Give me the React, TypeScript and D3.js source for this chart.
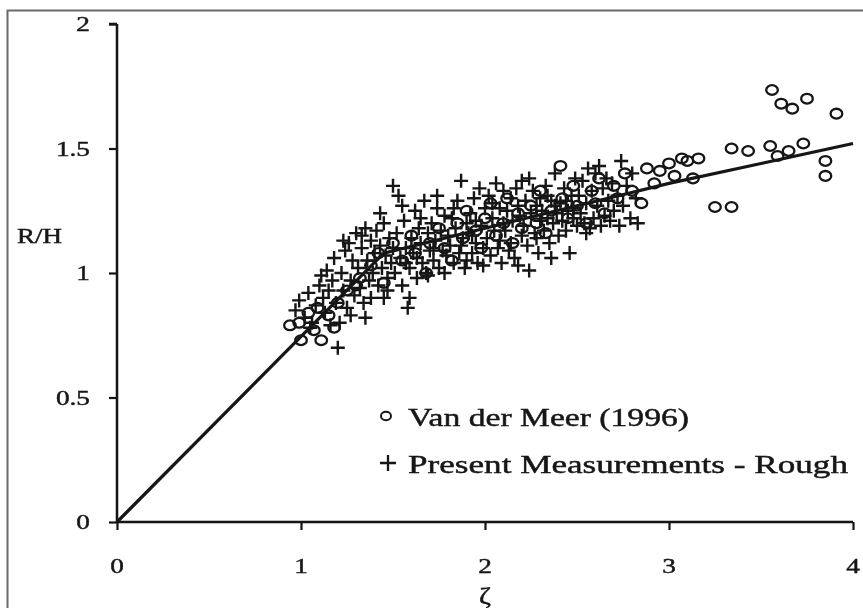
import React, { useEffect, useRef } from "react";
import * as d3 from "d3";

const X_TICKS = [0, 1, 2, 3, 4];
const X_TICK_LABELS = ["0", "1", "2", "3", "4"];
const Y_TICKS = [0, 0.5, 1, 1.5, 2];
const Y_TICK_LABELS = ["0", "0.5", "1", "1.5", "2"];
const X_LABEL = "ζ";
const Y_LABEL = "R/H";
const LEGEND = ["Van der Meer (1996)", "Present Measurements - Rough"];

// Fitted design curve
const curve: [number, number][] = [
  [0, 0], [1.45, 1.08], [2, 1.18], [2.5, 1.27], [3, 1.36], [3.5, 1.44], [4, 1.52],
];

// Van der Meer (1996) – circles
const vanDerMeer: [number, number][] = [
  [0.94, 0.79], [0.99, 0.8], [1.04, 0.84], [1.0, 0.73], [1.11, 0.73], [1.07, 0.77],
  [1.15, 0.83], [1.2, 0.88], [1.25, 0.93], [1.3, 0.95], [1.18, 0.78], [1.09, 0.86],
  [1.32, 0.98], [1.38, 1.03], [1.42, 1.08], [1.45, 0.96], [1.5, 1.12], [1.55, 1.05],
  [1.6, 1.15], [1.62, 1.08], [1.68, 1.0], [1.7, 1.12], [1.75, 1.18], [1.78, 1.1],
  [1.82, 1.05], [1.85, 1.2], [1.88, 1.14], [1.9, 1.25], [1.95, 1.17], [1.98, 1.1],
  [2.0, 1.22], [2.03, 1.28], [2.06, 1.15], [2.1, 1.2], [2.12, 1.3], [2.15, 1.12],
  [2.18, 1.24], [2.2, 1.18], [2.25, 1.27], [2.28, 1.2], [2.3, 1.33], [2.33, 1.16],
  [2.36, 1.25], [2.41, 1.43], [2.42, 1.3], [2.45, 1.22], [2.48, 1.35], [2.5, 1.27],
  [2.55, 1.2], [2.58, 1.33], [2.6, 1.28], [2.62, 1.38], [2.65, 1.24], [2.7, 1.35],
  [2.72, 1.3], [2.76, 1.4], [2.8, 1.33], [2.85, 1.28], [2.88, 1.42], [2.92, 1.36],
  [2.95, 1.41], [3.0, 1.44], [3.03, 1.39], [3.07, 1.46], [3.1, 1.45], [3.13, 1.38],
  [3.16, 1.46], [3.25, 1.265], [3.34, 1.265], [3.34, 1.5], [3.43, 1.49],
  [3.55, 1.51], [3.59, 1.47], [3.65, 1.49], [3.73, 1.52], [3.85, 1.45], [3.85, 1.39],
  [3.56, 1.735], [3.61, 1.68], [3.67, 1.66], [3.75, 1.7], [3.91, 1.64],
];

// Present Measurements - Rough – plus signs
const present: [number, number][] = [
  [0.97, 0.85], [0.99, 0.89], [1.02, 0.82], [1.04, 0.92], [1.06, 0.8], [1.08, 0.87], [1.1, 0.95], [1.05, 0.78],
  [1.11, 0.99], [1.12, 0.9], [1.13, 0.84], [1.14, 1.01], [1.15, 0.93], [1.16, 0.79], [1.17, 0.97], [1.18, 1.06], [1.19, 0.88], [1.2, 0.7],
  [1.21, 0.8], [1.22, 1.0], [1.23, 0.93], [1.24, 1.09], [1.25, 0.86], [1.26, 1.12], [1.27, 0.97], [1.28, 1.05], [1.29, 0.91], [1.3, 1.16], [1.23, 1.13], [1.27, 0.83],
  [1.31, 1.02], [1.32, 0.94], [1.33, 1.1], [1.34, 0.88], [1.35, 0.82], [1.35, 1.18], [1.36, 1.05], [1.37, 0.97], [1.38, 1.13], [1.39, 1.0], [1.4, 1.08], [1.38, 0.9], [1.33, 1.15],
  [1.41, 1.17], [1.42, 0.95], [1.43, 1.11], [1.44, 1.02], [1.45, 1.2], [1.45, 0.9], [1.46, 1.07], [1.47, 0.98], [1.48, 1.14], [1.49, 1.04], [1.5, 1.35], [1.5, 1.1], [1.43, 1.24], [1.47, 0.93],
  [1.51, 1.0], [1.52, 1.16], [1.53, 1.31], [1.54, 1.06], [1.55, 0.95], [1.56, 1.21], [1.57, 1.1], [1.58, 0.86], [1.59, 0.9], [1.59, 1.02], [1.6, 1.14], [1.55, 1.27], [1.57, 1.04],
  [1.61, 1.08], [1.62, 1.25], [1.63, 0.98], [1.64, 1.18], [1.65, 1.12], [1.66, 1.04], [1.67, 1.29], [1.68, 1.0], [1.69, 1.16], [1.7, 1.09], [1.65, 1.22], [1.63, 1.06], [1.69, 0.99],
  [1.71, 1.2], [1.72, 1.05], [1.73, 1.13], [1.74, 1.26], [1.75, 1.02], [1.76, 1.17], [1.77, 1.09], [1.78, 1.23], [1.79, 1.07], [1.8, 1.15], [1.74, 1.31], [1.78, 1.0], [1.72, 1.1],
  [1.81, 1.11], [1.82, 1.22], [1.83, 1.04], [1.84, 1.18], [1.85, 1.29], [1.86, 1.08], [1.87, 1.37], [1.88, 1.14], [1.89, 1.02], [1.9, 1.2], [1.83, 1.26], [1.87, 1.11], [1.9, 1.05],
  [1.91, 1.16], [1.92, 1.24], [1.93, 1.08], [1.94, 1.3], [1.95, 1.12], [1.96, 1.04], [1.97, 1.34], [1.98, 1.19], [1.99, 1.1], [2.0, 1.26], [1.95, 1.21], [1.99, 1.03], [1.93, 1.15],
  [2.01, 1.14], [2.02, 1.31], [2.03, 1.07], [2.04, 1.22], [2.05, 1.17], [2.06, 1.36], [2.07, 1.1], [2.08, 1.26], [2.09, 1.04], [2.1, 1.2], [2.04, 1.28], [2.08, 1.13], [2.1, 1.33],
  [2.11, 1.17], [2.12, 1.25], [2.13, 1.09], [2.14, 1.3], [2.15, 1.21], [2.16, 1.06], [2.17, 1.34], [2.18, 1.03], [2.19, 1.23], [2.2, 1.15], [2.14, 1.12], [2.18, 1.27], [2.2, 1.37],
  [2.21, 1.19], [2.22, 1.29], [2.23, 1.11], [2.24, 1.01], [2.25, 1.24], [2.26, 1.33], [2.27, 1.16], [2.28, 1.27], [2.29, 1.08], [2.3, 1.21], [2.24, 1.38], [2.28, 1.14], [2.3, 1.3],
  [2.31, 1.25], [2.32, 1.17], [2.33, 1.35], [2.34, 1.22], [2.35, 1.12], [2.36, 1.29], [2.37, 1.2], [2.38, 1.4], [2.39, 1.24], [2.4, 1.15], [2.34, 1.31], [2.38, 1.27], [2.36, 1.06],
  [2.41, 1.28], [2.42, 1.21], [2.43, 1.34], [2.44, 1.17], [2.45, 1.25], [2.46, 1.08], [2.47, 1.31], [2.48, 1.22], [2.49, 1.38], [2.5, 1.19], [2.44, 1.29], [2.48, 1.26],
  [2.51, 1.31], [2.52, 1.24], [2.53, 1.37], [2.54, 1.2], [2.55, 1.28], [2.56, 1.42], [2.57, 1.18], [2.58, 1.33], [2.59, 1.22], [2.6, 1.4], [2.55, 1.16],
  [2.61, 1.27], [2.62, 1.43], [2.63, 1.19], [2.64, 1.34], [2.65, 1.23], [2.66, 1.38], [2.67, 1.29], [2.68, 1.21], [2.69, 1.36], [2.7, 1.25],
  [2.72, 1.31], [2.73, 1.19], [2.74, 1.45], [2.75, 1.27], [2.77, 1.35], [2.79, 1.22], [2.8, 1.4], [2.83, 1.2], [2.82, 1.3],
];

const W = 863;
const H = 608;
const FONT = "'Liberation Serif', 'Times New Roman', serif";
const INK = "#151515";

export default function App() {
  const axRef = useRef<SVGGElement>(null);
  const x = d3.scaleLinear().domain([0, 4]).range([117, 853]);
  const y = d3.scaleLinear().domain([0, 2]).range([522, 24]);

  useEffect(() => {
    const g = d3.select(axRef.current);
    g.selectAll("*").remove();
    const ya = g.append("g").attr("transform", `translate(${x(0)},0)`)
      .call(d3.axisLeft(y).tickValues(Y_TICKS).tickSize(8).tickFormat(() => ""));
    const xa = g.append("g").attr("transform", `translate(0,${y(0)})`)
      .call(d3.axisBottom(x).tickValues(X_TICKS).tickSize(8).tickFormat(() => ""));
    [ya, xa].forEach((a) => {
      a.select(".domain").attr("stroke", INK).attr("stroke-width", 2.5);
      a.selectAll(".tick line").attr("stroke", INK).attr("stroke-width", 2.2);
    });
    ya.select(".domain").attr("d", `M0,${y(2)}H-8M0,${y(2)}V${y(0)}`);
    xa.select(".domain").attr("d", `M${x(0)},0H${x(4)}`);
  }, []);

  const line = d3.line<[number, number]>().x((d) => x(d[0])).y((d) => y(d[1]));

  const sText = (
    tx: number, ty: number, s: string, size: number, anchor: string, sx = 1.3, len?: number
  ) => (
    <text
      key={s + tx + ty}
      transform={`translate(${tx},${ty}) scale(${sx},1)`}
      fontFamily={FONT}
      fontSize={size}
      fill={INK}
      stroke={INK}
      strokeWidth={0.45}
      textAnchor={anchor}
      {...(len ? { textLength: len / sx, lengthAdjust: "spacingAndGlyphs" } : {})}
    >
      {s}
    </text>
  );

  return (
    <svg width={W} height={H} style={{ position: "absolute", left: 0, top: 0, background: "#fff" }}>
      <defs>
        <filter id="soft" x="-5%" y="-5%" width="110%" height="110%">
          <feGaussianBlur stdDeviation="0.45" />
        </filter>
      </defs>
      <rect x={0} y={0} width={W} height={H} fill="#fff" />
      <rect x={7.5} y={10.5} width={W + 20} height={H + 20} fill="none" stroke="#6a6a6a" strokeWidth={2} />
      <g filter="url(#soft)">
        <path d={line(curve) || ""} fill="none" stroke={INK} strokeWidth={3.2} />
        <g fill="none" stroke={INK} strokeWidth={2.3}>
          {vanDerMeer.map((d, i) => (
            <ellipse key={"c" + i} cx={x(d[0])} cy={y(d[1])} rx={5.8} ry={4.9} />
          ))}
        </g>
        <g stroke={INK} strokeWidth={2.4}>
          {present.map((d, i) => {
            const cx = x(d[0]);
            const cy = y(d[1]);
            return (
              <path key={"p" + i} d={`M${cx - 7},${cy}H${cx + 7}M${cx},${cy - 7}V${cy + 7}`} />
            );
          })}
        </g>
        <g ref={axRef} />
        {Y_TICKS.map((t, i) => sText(90, y(t) + 7, Y_TICK_LABELS[i], 21, "end"))}
        {X_TICKS.map((t, i) => sText(x(t), 573, X_TICK_LABELS[i], 21, "middle"))}
        {sText(x(2), 603, X_LABEL, 24, "middle", 1.2)}
        {sText(17, 243, Y_LABEL, 20, "start", 1.35)}
        <ellipse cx={386} cy={416} rx={5} ry={4.2} fill="none" stroke={INK} strokeWidth={2} />
        {sText(408, 426, LEGEND[0], 26, "start", 1.15, 281)}
        <path d="M380,463H396M388,455V471" stroke={INK} strokeWidth={2.3} />
        {sText(408, 473, LEGEND[1], 26, "start", 1.15, 440)}
      </g>
    </svg>
  );
}
